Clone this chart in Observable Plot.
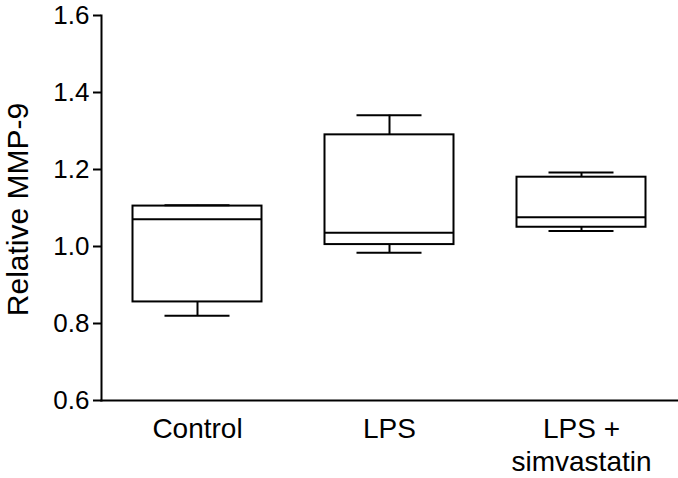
<!DOCTYPE html>
<html>
<head>
<meta charset="utf-8">
<script src="https://cdn.jsdelivr.net/npm/d3@7"></script>
<script src="https://cdn.jsdelivr.net/npm/@observablehq/plot@0.6"></script>
<style>
  html, body { margin: 0; padding: 0; background: #fff; }
  svg { display: block; }
</style>
</head>
<body>
<div id="chart"></div>
<script>
const groups = ["Control", "LPS", "LPS +\nsimvastatin"];
const mins    = [0.820, 0.984, 1.040];
const q1s     = [0.856, 1.005, 1.050];
const medians = [1.071, 1.036, 1.076];
const q3s     = [1.105, 1.290, 1.180];
const maxs    = [1.107, 1.341, 1.192];
const yTicks  = [0.6, 0.8, 1.0, 1.2, 1.4, 1.6];
const yLabel  = "Relative MMP-9";

const data = groups.map((g, i) => ({
  group: g, min: mins[i], q1: q1s[i], median: medians[i], q3: q3s[i], max: maxs[i]
}));

const boxInset = 31.5;
const capInset = 63.5;
const sw = 2;

const chart = Plot.plot({
  width: 678,
  height: 478,
  marginLeft: 101,
  marginRight: 1,
  marginTop: 15,
  marginBottom: 78,
  style: { fontFamily: "'Liberation Sans', Arial, sans-serif", background: "#fff", color: "#000" },
  x: { domain: groups, padding: 0, label: null },
  y: { domain: [0.6, 1.6], label: null },
  marks: [
    Plot.barY(data, { x: "group", y1: "q1", y2: "q3", fill: "white", stroke: "black", strokeWidth: sw, insetLeft: boxInset, insetRight: boxInset }),
    Plot.tickY(data, { x: "group", y: "median", stroke: "black", strokeWidth: sw, insetLeft: boxInset, insetRight: boxInset }),
    Plot.ruleX(data, { x: "group", y1: "q3", y2: "max", stroke: "black", strokeWidth: sw }),
    Plot.ruleX(data, { x: "group", y1: "min", y2: "q1", stroke: "black", strokeWidth: sw }),
    Plot.tickY(data, { x: "group", y: "max", stroke: "black", strokeWidth: sw, insetLeft: capInset, insetRight: capInset }),
    Plot.tickY(data, { x: "group", y: "min", stroke: "black", strokeWidth: sw, insetLeft: capInset, insetRight: capInset }),
    Plot.axisY({ ticks: yTicks, tickFormat: d3.format(".1f"), tickSize: 8, tickPadding: 4, fontSize: 26, strokeWidth: sw, label: null }),
    Plot.axisX({ tickSize: 0, tickPadding: 14, fontSize: 28, lineHeight: 1.18, label: null }),
    Plot.frame({ anchor: "left", stroke: "black", strokeWidth: sw }),
    Plot.frame({ anchor: "bottom", stroke: "black", strokeWidth: sw }),
    Plot.text([yLabel], { text: d => d, frameAnchor: "left", textAnchor: "middle", rotate: -90, dx: -83, dy: 1.5, fontSize: 30, fill: "black" })
  ]
});
document.getElementById("chart").appendChild(chart);
</script>
</body>
</html>
